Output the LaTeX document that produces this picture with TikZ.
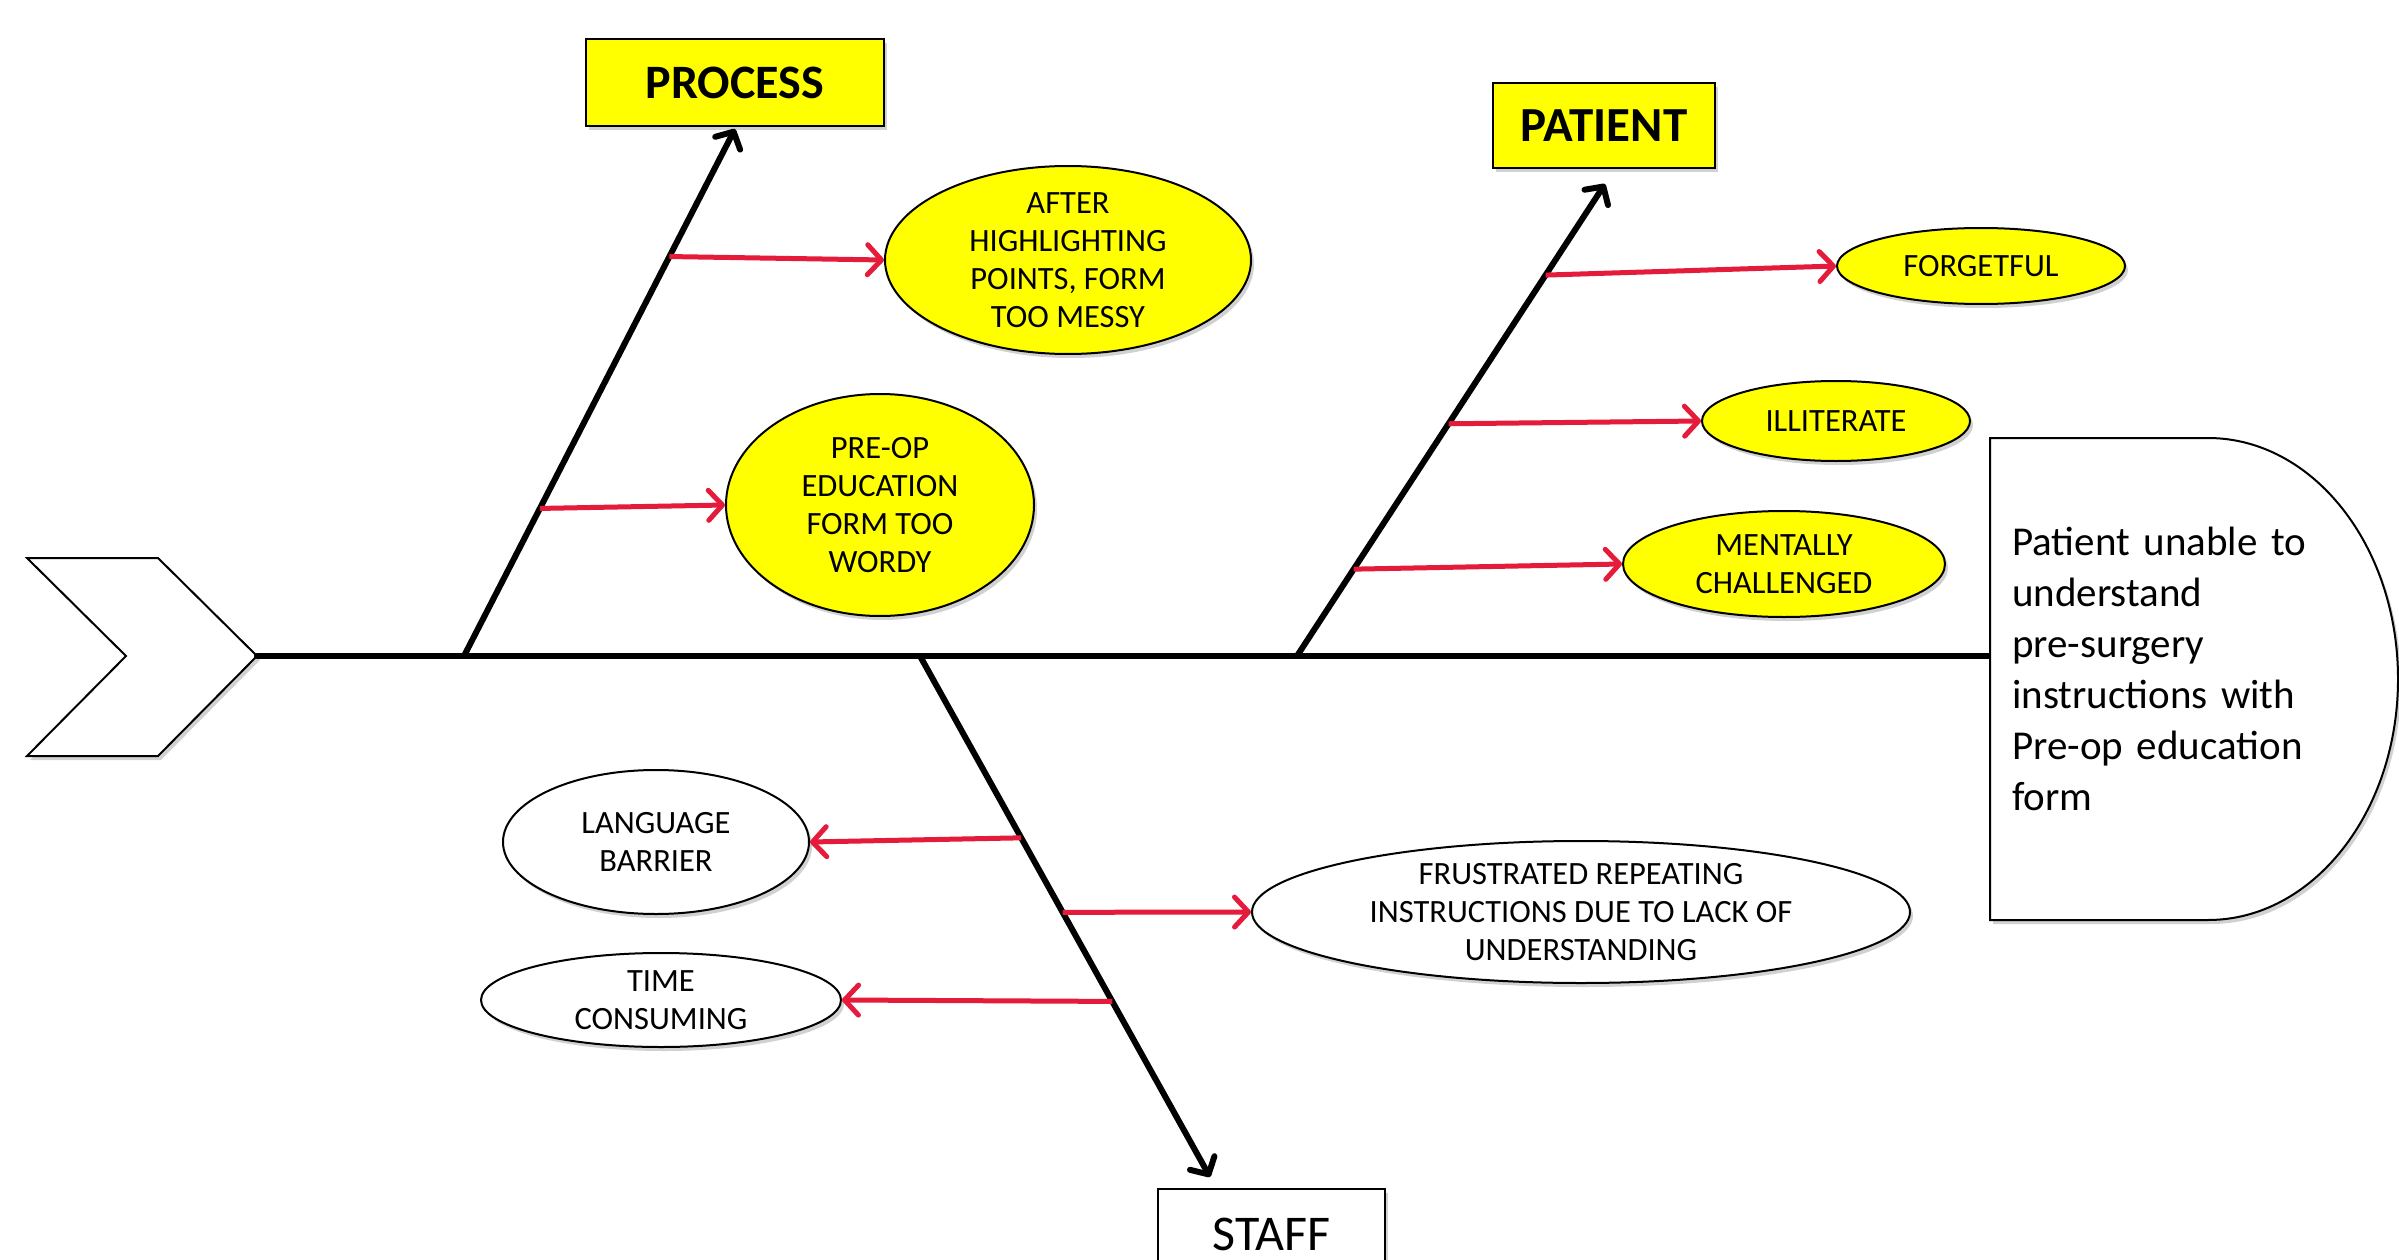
\documentclass[tikz,border=0pt]{standalone}
\usepackage{fontspec}
\setmainfont{Carlito}
\usetikzlibrary{arrows.meta,shapes.geometric,calc,shadows}
\definecolor{arrred}{RGB}{228,27,58}
\definecolor{boxyellow}{RGB}{255,255,0}
\begin{document}
\begin{tikzpicture}[x=1pt,y=-1pt,
  softshadow/.style={drop shadow={shadow xshift=3pt,shadow yshift=-4pt,opacity=0.18,fill=black}},
  bone/.style={line width=6pt,black,line cap=round},
  bonearrow/.style={bone,-{Straight Barb[length=13pt,width=28pt,line cap=round,line join=round]}},
  redarrow/.style={line width=5pt,arrred,-{Straight Barb[length=14pt,width=30pt,line cap=round,line join=round]}},
  cause/.style={ellipse,draw=black,line width=2pt,inner sep=0pt,softshadow},
  yellowcause/.style={cause,fill=boxyellow},
  whitecause/.style={cause,fill=white},
  lbl/.style={align=center,inner sep=0pt,font=\fontsize{32.5}{38}\selectfont},
  catbox/.style={rectangle,draw=black,line width=2.5pt,inner sep=0pt,softshadow}
]
\useasboundingbox (0,0) rectangle (2399,1260);
\fill[white] (0,0) rectangle (2399,1260);

% tail chevron
\draw[line width=2pt,fill=white,line join=miter,softshadow]
  (27,558) -- (158,558) -- (257,656) -- (158,756) -- (27,756) -- (126,656) -- cycle;
\coordinate (tail) at (257,656);
\coordinate (spineend) at (1990,656);

% spine
\draw[bone] (tail) -- (spineend);

% head
\draw[line width=2pt,fill=white,softshadow]
  (1990,438) -- (2208,438) arc[start angle=-90,end angle=90,x radius=190,y radius=241]
  -- (1990,920) -- cycle;
\node[anchor=north west,inner sep=0pt,align=left,text width=370pt,
      font=\fontsize{41}{51}\selectfont] (head) at (2012,527)
  {Patient unable to\\understand\\pre-surgery\\instructions with\\Pre-op education\\form};

% category boxes
\node[catbox,fill=boxyellow,minimum width=298pt,minimum height=87pt,
      font=\fontsize{48}{54}\selectfont\bfseries] (process) at (735,82.5) {PROCESS};
\node[catbox,fill=boxyellow,minimum width=222pt,minimum height=85pt,
      font=\fontsize{49}{54}\selectfont\bfseries] (patient) at (1604,125.5) {PATIENT};
\node[catbox,fill=white,minimum width=227pt,minimum height=90pt,
      font=\fontsize{50}{56}\selectfont] (staff) at (1271.5,1234) {STAFF};

% bones
\coordinate (pb) at (464,656);
\coordinate (ptip) at (735,129);
\coordinate (tb) at (1297,656);
\coordinate (ttip) at (1605,184);
\coordinate (sb) at (920,656);
\coordinate (stip) at (1210,1177);
\draw[bonearrow] (pb) -- (ptip);
\draw[bonearrow] (tb) -- (ttip);
\draw[bonearrow] (sb) -- (stip);

% causes
\node[yellowcause,minimum width=366pt,minimum height=188pt,
      label={[lbl]center:{AFTER\\HIGHLIGHTING\\POINTS, FORM\\TOO MESSY}}] (c1) at (1068,260) {};
\node[yellowcause,minimum width=308pt,minimum height=222pt,
      label={[lbl]center:{PRE-OP\\EDUCATION\\FORM TOO\\WORDY}}] (c2) at (880,505) {};
\node[yellowcause,minimum width=288pt,minimum height=76pt,
      label={[lbl]center:{FORGETFUL}}] (c3) at (1981,266) {};
\node[yellowcause,minimum width=268pt,minimum height=80pt,
      label={[lbl]center:{ILLITERATE}}] (c4) at (1836,421) {};
\node[yellowcause,minimum width=322pt,minimum height=106pt,
      label={[lbl]center:{MENTALLY\\CHALLENGED}}] (c5) at (1784,564) {};
\node[whitecause,minimum width=306pt,minimum height=144pt,
      label={[lbl]center:{LANGUAGE\\BARRIER}}] (c6) at (656,842) {};
\node[whitecause,minimum width=658pt,minimum height=142pt,
      label={[lbl]center:{FRUSTRATED REPEATING\\INSTRUCTIONS DUE TO LACK OF\\UNDERSTANDING}}] (c7) at (1581,912) {};
\node[whitecause,minimum width=360pt,minimum height=94pt,
      label={[lbl]center:{TIME\\CONSUMING}}] (c8) at (661,1000) {};

% points on bones
\coordinate (p1) at ($(pb)!0.758!(ptip)$);
\coordinate (p2) at ($(pb)!0.280!(ptip)$);
\coordinate (p3) at ($(tb)!0.807!(ttip)$);
\coordinate (p4) at ($(tb)!0.492!(ttip)$);
\coordinate (p5) at ($(tb)!0.184!(ttip)$);
\coordinate (p6) at ($(sb)!0.349!(stip)$);
\coordinate (p7) at ($(sb)!0.492!(stip)$);
\coordinate (p8) at ($(sb)!0.663!(stip)$);

% red arrows
\draw[redarrow] (p1) -- (c1.west);
\draw[redarrow] (p2) -- (c2.west);
\draw[redarrow] (p3) -- (c3.west);
\draw[redarrow] (p4) -- (c4.west);
\draw[redarrow] (p5) -- (c5.west);
\draw[redarrow] (p6) -- (c6.east);
\draw[redarrow] (p7) -- (c7.west);
\draw[redarrow] (p8) -- (c8.east);
\end{tikzpicture}
\end{document}
